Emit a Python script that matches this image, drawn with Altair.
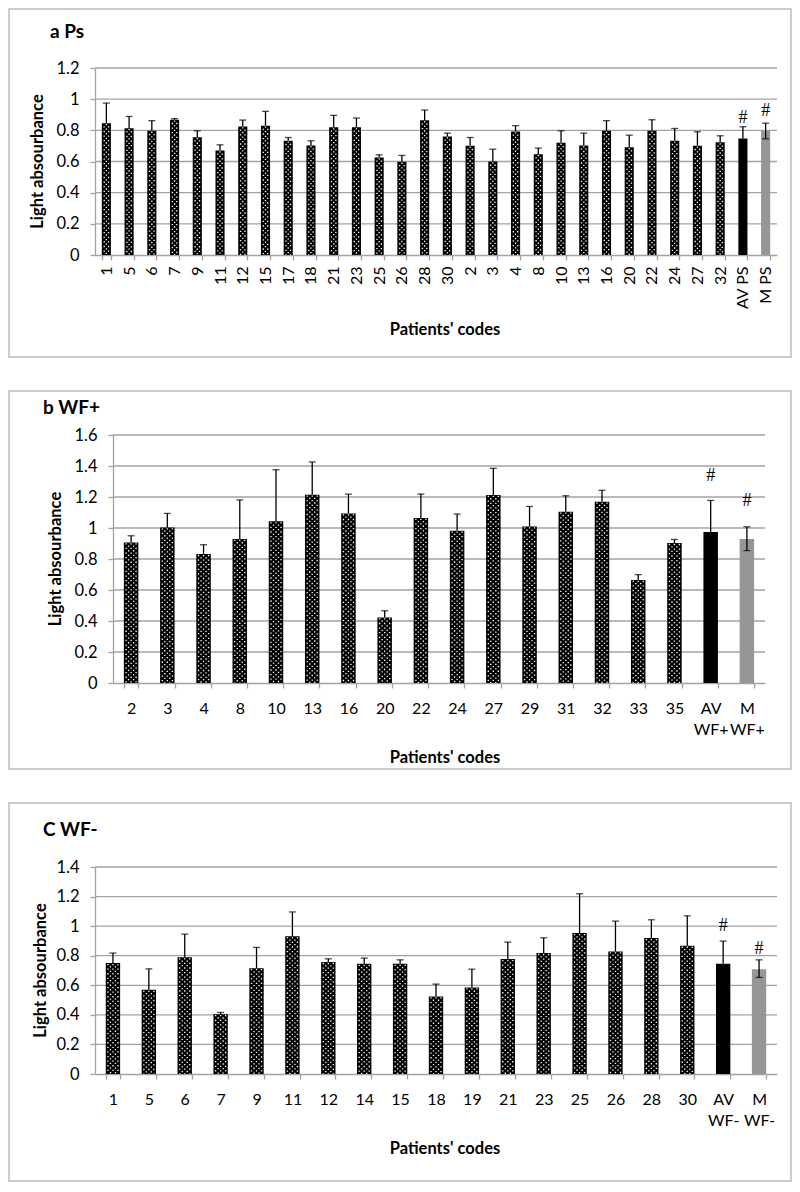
import altair as alt
import pandas as pd

# ---------------- data ----------------
a_codes = ["1", "5", "6", "7", "9", "11", "12", "15", "17", "18", "21", "23", "25", "26", "28", "30",
           "2", "3", "4", "8", "10", "13", "16", "20", "22", "24", "27", "32", "AV PS", "M PS"]
a_vals = [0.846, 0.814, 0.797, 0.868, 0.756, 0.671, 0.825, 0.830, 0.733, 0.703, 0.819, 0.819, 0.626, 0.598,
          0.864, 0.761, 0.701, 0.600, 0.793, 0.647, 0.720, 0.703, 0.797, 0.692, 0.797, 0.733, 0.701, 0.723,
          0.748, 0.797]
a_hi = [0.975, 0.889, 0.862, 0.875, 0.797, 0.707, 0.866, 0.922, 0.754, 0.733, 0.896, 0.879, 0.643, 0.639,
        0.930, 0.782, 0.754, 0.679, 0.830, 0.686, 0.797, 0.782, 0.862, 0.769, 0.868, 0.812, 0.791, 0.765,
        0.823, 0.846]
a_m_low = 0.746
a_hash = [0.878, 0.922]          # heights of the '#' marks (AV, M)
a_ticks = [0, 0.2, 0.4, 0.6, 0.8, 1, 1.2]

b_codes = ["2", "3", "4", "8", "10", "13", "16", "20", "22", "24", "27", "29", "31", "32", "33", "35",
           "AV WF+", "M WF+"]
b_vals = [0.907, 1.004, 0.832, 0.929, 1.043, 1.215, 1.094, 0.423, 1.065, 0.983, 1.213, 1.010, 1.105, 1.170,
          0.665, 0.903, 0.974, 0.929]
b_hi = [0.950, 1.094, 0.892, 1.181, 1.376, 1.426, 1.219, 0.466, 1.219, 1.090, 1.385, 1.139, 1.208, 1.243,
        0.699, 0.926, 1.178, 1.008]
b_m_low = 0.854
b_hash = [1.337, 1.176]
b_ticks = [0, 0.2, 0.4, 0.6, 0.8, 1, 1.2, 1.4, 1.6]

c_codes = ["1", "5", "6", "7", "9", "11", "12", "14", "15", "18", "19", "21", "23", "25", "26", "28", "30",
           "AV WF-", "M WF-"]
c_vals = [0.750, 0.569, 0.789, 0.404, 0.716, 0.931, 0.757, 0.745, 0.745, 0.524, 0.585, 0.777, 0.818, 0.953,
          0.829, 0.919, 0.867, 0.745, 0.709]
c_hi = [0.818, 0.711, 0.946, 0.416, 0.856, 1.096, 0.779, 0.784, 0.772, 0.608, 0.709, 0.892, 0.921, 1.219,
        1.034, 1.043, 1.070, 0.899, 0.772]
c_m_low = 0.653
c_hash = [0.999, 0.845]
c_ticks = [0, 0.2, 0.4, 0.6, 0.8, 1, 1.2, 1.4]

# ---------------- style ----------------
FONT = "Lato"
GRID = "#a3a3a3"
FRAME = "#bdbdbd"


def make_panel(codes, vals, his, m_low, hashes, ticks, w, h, xshift, title, title_xy,
               ytitle_x, xtitle_x, frame, rotate, dots):
    ymax = ticks[-1]
    kinds = ["av" if c.startswith("AV") else ("m" if c.startswith("M ") else "pat") for c in codes]
    los = [m_low if k == "m" else v for k, v in zip(kinds, vals)]
    hs = []
    hi_iter = iter(hashes)
    for k in kinds:
        hs.append(next(hi_iter) if k != "pat" else None)
    df = pd.DataFrame({"code": codes, "val": vals, "hi": his, "lo": los,
                       "kind": kinds, "hash": hs, "zero": [0.0] * len(codes)})

    xscale = alt.Scale(paddingInner=0.6, paddingOuter=0.3, range=[xshift, w])
    xaxis = alt.Axis(title=None, labelAngle=270 if rotate else 0,
                     labelExpr="datum.label" if rotate else "split(datum.label, ' ')",
                     labelLineHeight=21, labelFont=FONT, labelFontSize=16, labelColor="black",
                     labelPadding=6 if rotate else 12, tickBand="extent", tickSize=5,
                     tickColor=GRID, domainColor=GRID, tickWidth=1.3, domainWidth=1.3, grid=False)
    yaxis = alt.Axis(title=None, values=ticks, format="~g", grid=False, labelOverlap=False,
                     domainColor=GRID, domainWidth=1.3, tickColor=GRID, tickWidth=1.3, tickSize=5,
                     offset=-xshift,
                     labelFont=FONT, labelFontSize=16.5, labelColor="black", labelPadding=11)
    yscale = alt.Scale(domain=[0, ymax], nice=False)

    X = alt.X("code:N", sort=codes, scale=xscale, axis=xaxis, title=None)

    def Y(f):
        return alt.Y(f, scale=yscale, axis=yaxis, title=None)

    base = alt.Chart(df)
    one = alt.Data(values=[{}])

    frame_l = alt.Chart(one).mark_rect(fill="transparent", stroke=FRAME, strokeWidth=1.5).encode(
        x=alt.value(frame[0]), x2=alt.value(frame[1]), y=alt.value(frame[2]), y2=alt.value(frame[3]))

    grid = alt.Chart(pd.DataFrame({"t": ticks[1:]})).mark_rule(color=GRID, strokeWidth=1.3).encode(
        y=Y("t:Q"), x=alt.value(xshift), x2=alt.value(w))

    bars = base.mark_bar().encode(
        x=X,
        y=Y("val:Q"),
        color=alt.Color("kind:N", scale=alt.Scale(domain=["pat", "av", "m"],
                                                   range=["#000000", "#000000", "#969696"]), legend=None),
    )

    layers = [frame_l, grid, bars]
    for off, phase in dots:
        layers.append(
            base.transform_filter("datum.kind == 'pat'").mark_rule(
                color="white", strokeWidth=1.3, strokeDash=[1.3, 3.3], strokeDashOffset=phase, xOffset=off
            ).encode(x=X, y=Y("val:Q"), y2="zero:Q")
        )

    err = base.mark_rule(color="black", strokeWidth=1.3).encode(x=X, y=Y("lo:Q"), y2="hi:Q")
    cap_hi = base.mark_tick(color="black", thickness=1.3, size=7).encode(x=X, y=Y("hi:Q"))
    cap_lo = base.transform_filter("datum.kind == 'm'").mark_tick(
        color="black", thickness=1.3, size=7).encode(x=X, y=Y("lo:Q"))
    hash_l = base.transform_filter("datum.kind != 'pat'").mark_text(
        font="Liberation Serif", fontSize=18, baseline="middle", color="black").encode(
        x=X, y=Y("hash:Q"), text=alt.value("#"))

    ttl = alt.Chart(one).mark_text(font=FONT, fontSize=19, fontWeight="bold", align="left",
                                   baseline="alphabetic", color="black").encode(
        x=alt.value(title_xy[0]), y=alt.value(title_xy[1]), text=alt.value(title))
    ytl = alt.Chart(one).mark_text(font=FONT, fontSize=16.5, fontWeight="bold", angle=270, align="center",
                                   baseline="middle", color="black").encode(
        x=alt.value(ytitle_x), y=alt.value(h / 2), text=alt.value("Light absourbance"))
    xtl = alt.Chart(one).mark_text(font=FONT, fontSize=16.5, fontWeight="bold", align="center",
                                   baseline="middle", color="black").encode(
        x=alt.value(xtitle_x), y=alt.value(h + 75), text=alt.value("Patients' codes"))

    layers += [err, cap_hi, cap_lo, hash_l, ttl, ytl, xtl]
    return alt.layer(*layers).properties(width=w, height=h)


# all plot areas share a left origin (page x ~95); panel b's axis is shifted right by 18 px
pa = make_panel(a_codes, a_vals, a_hi, a_m_low, a_hash, a_ticks, 682, 187, 0, "a Ps", (-45, -30),
                -57, 350, (-86, 696, -59, 289), True,
                [(-2.2, 1.5), (0, 3.8), (2.2, 1.5)])
pb = make_panel(b_codes, b_vals, b_hi, b_m_low, b_hash, b_ticks, 670, 248, 18, "b WF+", (-52, -21),
                -39, 350, (-86, 696, -44, 334), False,
                [(-5, 3.8), (-2.5, 1.5), (0, 3.8), (2.5, 1.5), (5, 3.8)])
pc = make_panel(c_codes, c_vals, c_hi, c_m_low, c_hash, c_ticks, 682, 207, 0, "C WF-", (-52, -31),
                -54, 350, (-86, 696, -64, 314), False,
                [(-5, 3.8), (-2.5, 1.5), (0, 3.8), (2.5, 1.5), (5, 3.8)])

chart = alt.vconcat(pa, pb, pc, spacing=32).properties(
    padding=0
).configure_view(strokeWidth=0)

chart.save("out.html", embed_options={"renderer": "svg", "actions": False})
